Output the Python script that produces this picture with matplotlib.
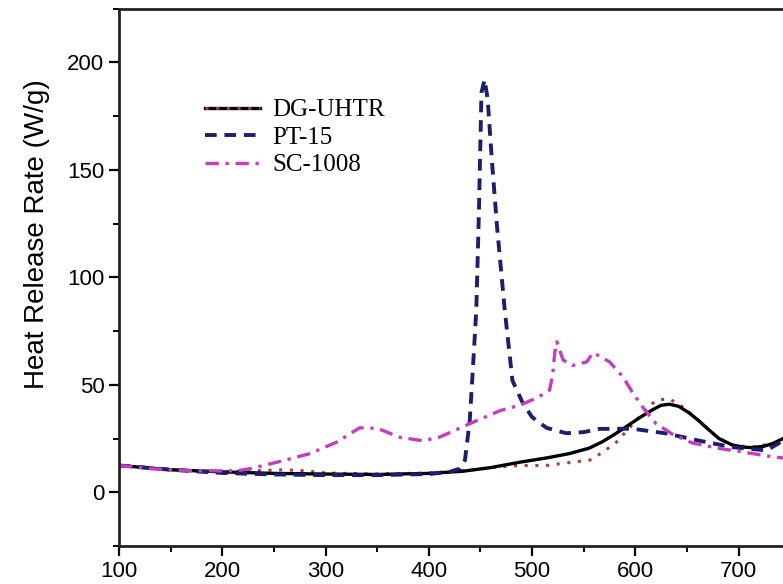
import matplotlib
matplotlib.use("Agg")
import matplotlib.pyplot as plt
from matplotlib.legend_handler import HandlerTuple

# data
temp_dg = [100, 150, 200, 250, 300, 350, 400, 433, 460, 488, 514, 536, 555, 568, 580, 591,
           605, 617, 625, 633, 642, 652, 661, 669, 681, 694, 705, 713, 725, 733, 743]
hrr_dg = [12.5, 10.5, 9.5, 8.8, 8.5, 8.3, 8.8, 9.8, 11.5, 14, 16, 18, 20.5, 23.5, 27, 30.5,
          35, 38.5, 40.5, 41, 40, 37, 33.5, 30, 25, 22, 21, 20.8, 21.5, 22.7, 25]

temp_dg_fit = [100, 150, 200, 230, 260, 280, 300, 350, 400, 433, 460, 488, 514, 539, 556,
               568, 582, 600, 613, 621, 633, 645, 655, 669, 681, 694, 713, 733, 743]
hrr_dg_fit = [12.5, 10.5, 9.5, 10, 10.5, 10, 9, 8.5, 9, 10, 11.5, 12.5, 12.5, 14, 15,
              18.5, 23.5, 33, 40, 43, 43.5, 40, 36, 30, 25, 22, 21, 22.7, 24]

temp_pt = [100, 150, 200, 250, 300, 350, 400, 420, 430, 435, 439.6, 443, 446, 448.5, 451,
           454, 457, 461, 466, 473.5, 481, 491, 500, 514, 533, 550, 565, 597, 630, 662,
           694, 727, 743]
hrr_pt = [12.5, 10.5, 9, 8.3, 8, 8, 8.5, 9.5, 11, 15, 33, 60, 85, 130, 186,
          192, 183, 155, 124, 85, 52, 41.5, 35, 30, 27.5, 28, 29.5, 29.6, 27.4, 24,
          21, 19.5, 24]

temp_sc = [100, 130, 169, 214, 227, 253, 285, 311, 333, 350, 372, 394, 410, 440, 469,
           488, 505, 517, 520, 522, 524, 530, 539, 553, 559, 575, 588, 597, 607, 620,
           636, 655, 680, 701, 733, 743]
hrr_sc = [12.5, 11, 10, 10, 11, 14, 18, 23.4, 30, 29.8, 25.6, 24, 25.6, 32, 38,
          40.5, 44, 47.6, 55, 65, 70, 61.6, 59, 60.7, 65, 60.7, 53.7, 46.7, 39.7, 32,
          27, 23, 20.5, 19, 16.5, 16]

fig = plt.figure(figsize=(7.83, 5.84), dpi=100)
ax = fig.add_axes([0.152, 0.065, 0.848, 0.92])

dg_fit, = ax.plot(temp_dg_fit, hrr_dg_fit, color="#b03a2e", lw=2.2, ls=(0, (1, 2.5)))
dg, = ax.plot(temp_dg, hrr_dg, color="black", lw=2.4)
pt, = ax.plot(temp_pt, hrr_pt, color="#1c1f6e", lw=2.8, ls=(0, (3, 2)))
sc, = ax.plot(temp_sc, hrr_sc, color="#c43cc4", lw=2.4, ls=(0, (4, 2, 1, 2)))

ax.set_xlim(100, 743)
ax.set_ylim(-25, 225)
ax.set_xticks([100, 200, 300, 400, 500, 600, 700])
ax.set_xticks(range(150, 750, 100), minor=True)
ax.set_yticks([0, 50, 100, 150, 200])
ax.set_yticks([-25, 25, 75, 125, 175, 225], minor=True)
ax.tick_params(which="major", direction="out", length=7, width=1.6, labelsize=16)
ax.tick_params(which="minor", direction="out", length=4, width=1.4)
for lab in ax.get_xticklabels() + ax.get_yticklabels():
    lab.set_family("Liberation Sans")
for s in ["left", "bottom", "top"]:
    ax.spines[s].set_linewidth(2)
    ax.spines[s].set_color("#222222")
ax.spines["right"].set_visible(False)

ax.set_ylabel("Heat Release Rate (W/g)", fontsize=20, family="Liberation Sans")
ax.yaxis.set_label_coords(-0.104, 0.58)

ax.legend([(dg, dg_fit), pt, sc], ["DG-UHTR", "PT-15", "SC-1008"],
          handler_map={tuple: HandlerTuple(ndivide=1, pad=0)},
          loc="upper left", bbox_to_anchor=(0.095, 0.874), frameon=False,
          prop={"family": "Liberation Serif", "size": 18},
          handlelength=2.2, handletextpad=0.5, labelspacing=0.2)

fig.savefig("out.png", dpi=100)
